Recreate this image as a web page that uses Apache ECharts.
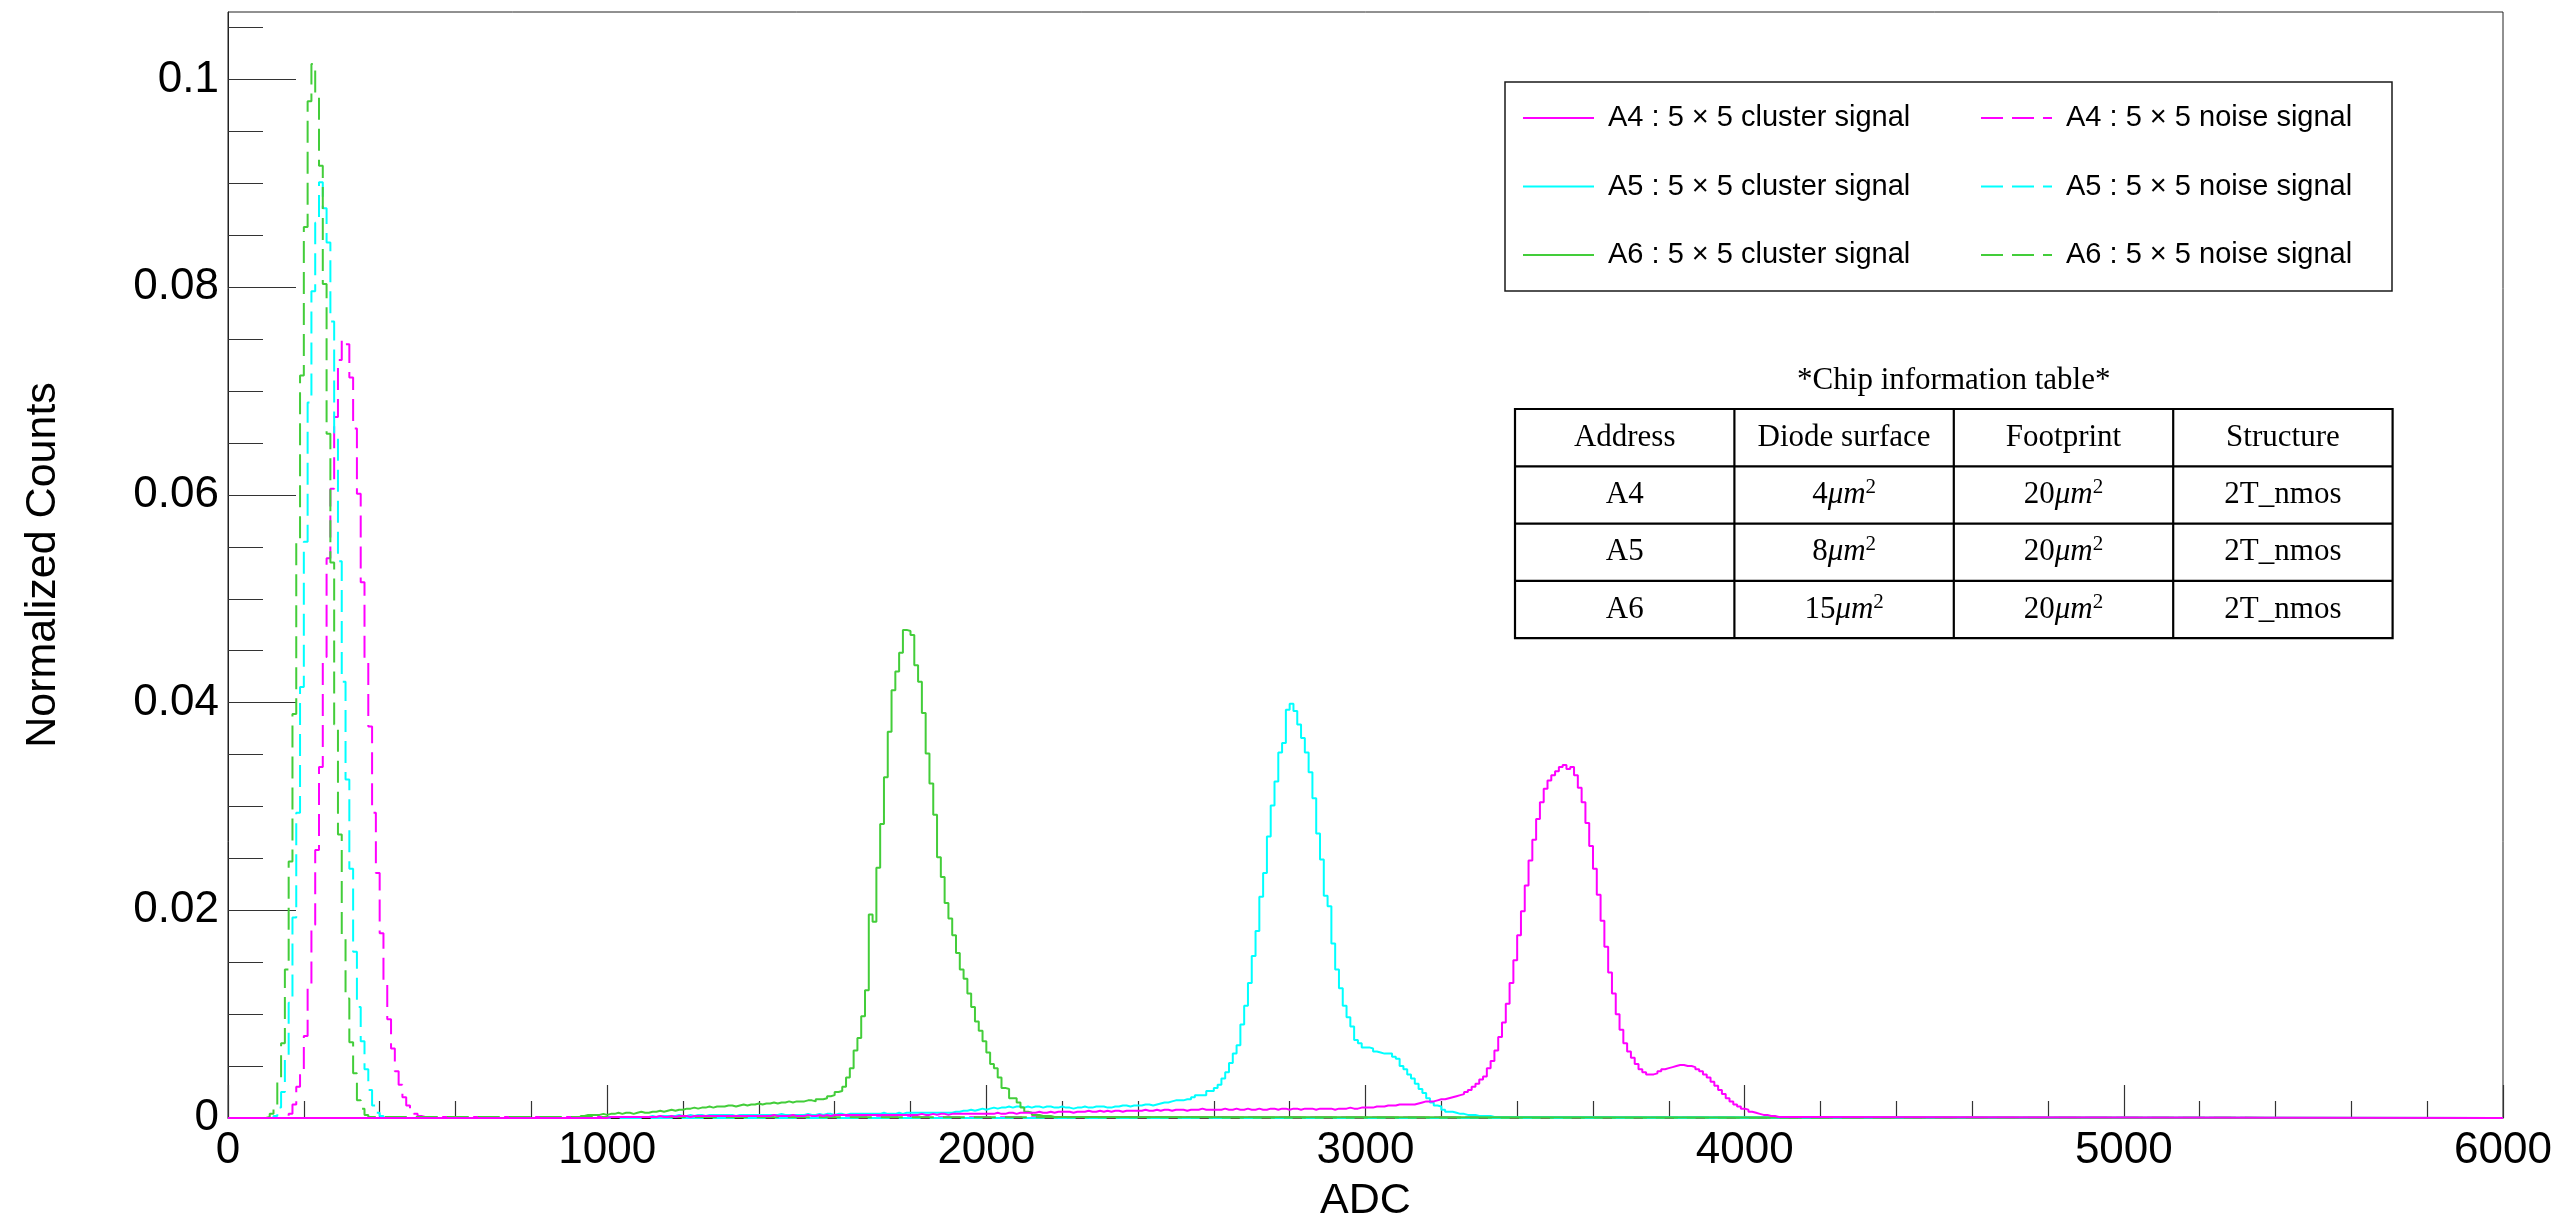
<!DOCTYPE html>
<html>
<head>
<meta charset="utf-8">
<script src="https://cdn.jsdelivr.net/npm/echarts@6/dist/echarts.min.js"></script>
<style>
  html, body { margin: 0; padding: 0; background: #ffffff; }
  #chart { width: 2560px; height: 1228px; }
</style>
</head>
<body>
<div id="chart"></div>
<script>
// ---------------- data ----------------
const BIN_WIDTH = 10;           // ADC counts per histogram bin
const ADC_MIN = 0, ADC_MAX = 6000;
const COUNT_MAX = 0.1065;

const xTickValues = [0, 1000, 2000, 3000, 4000, 5000, 6000];
const yTickValues = [0, 0.02, 0.04, 0.06, 0.08, 0.1];
const yMinorTickValues = [0.005, 0.01, 0.015, 0.025, 0.03, 0.035, 0.045, 0.05, 0.055,
  0.065, 0.07, 0.075, 0.085, 0.09, 0.095, 0.105];

const chips = ['A4', 'A5', 'A6'];
const clusterLabels = chips.map(c => c + ' : 5 \u00d7 5 cluster signal');
const noiseLabels = chips.map(c => c + ' : 5 \u00d7 5 noise signal');

// noise histograms (first bin lower edge, then one value per 10-ADC bin)
const a4NoiseStart = 150;
const a4Noise = [0.0001, 0.0004, 0.0013, 0.0030, 0.0046, 0.0079, 0.0125, 0.0186, 0.0258, 0.0338,
  0.0444, 0.0539, 0.0606, 0.0675, 0.0730, 0.0749, 0.0745, 0.0713, 0.0664, 0.0601,
  0.0516, 0.0441, 0.0377, 0.0294, 0.0236, 0.0178, 0.0133, 0.0095, 0.0067, 0.0045,
  0.0032, 0.0020, 0.0012, 0.0008, 0.0004, 0.0002, 0.0001];

const a5NoiseStart = 120;
const a5Noise = [0.0002, 0.0010, 0.0025, 0.0058, 0.0111, 0.0193, 0.0294, 0.0415, 0.0555, 0.0689,
  0.0796, 0.0862, 0.0901, 0.0876, 0.0843, 0.0767, 0.0660, 0.0536, 0.0420, 0.0326,
  0.0240, 0.0160, 0.0107, 0.0074, 0.0047, 0.0027, 0.0012, 0.0005, 0.0002];

const a6NoiseStart = 100;
const a6Noise = [0.0001, 0.0004, 0.0013, 0.0035, 0.0072, 0.0143, 0.0247, 0.0389, 0.0554, 0.0715,
  0.0858, 0.0979, 0.1015, 0.0985, 0.0917, 0.0803, 0.0659, 0.0535, 0.0379, 0.0273,
  0.0176, 0.0115, 0.0073, 0.0043, 0.0017, 0.0009, 0.0003, 0.0001];

// cluster-signal histograms
const a4SignalStart = 1000;
const a4Signal = [
  0.0001, 0.0001, 0.0001, 0.0001, 0.0001, 0.0001, 0.0001, 0.0001, 0.0001, 0.0001,
  0.0001, 0.0001, 0.0001, 0.0002, 0.0001, 0.0001, 0.0002, 0.0001, 0.0002, 0.0002,
  0.0002, 0.0001, 0.0002, 0.0002, 0.0002, 0.0002, 0.0002, 0.0002, 0.0002, 0.0002,
  0.0002, 0.0002, 0.0002, 0.0002, 0.0002, 0.0002, 0.0002, 0.0002, 0.0002, 0.0002,
  0.0002, 0.0002, 0.0002, 0.0003, 0.0002, 0.0002, 0.0002, 0.0002, 0.0003, 0.0002,
  0.0002, 0.0002, 0.0003, 0.0002, 0.0002, 0.0003, 0.0002, 0.0003, 0.0002, 0.0003,
  0.0003, 0.0003, 0.0003, 0.0003, 0.0003, 0.0003, 0.0003, 0.0003, 0.0003, 0.0003,
  0.0003, 0.0003, 0.0003, 0.0003, 0.0003, 0.0003, 0.0003, 0.0003, 0.0003, 0.0003,
  0.0003, 0.0003, 0.0004, 0.0003, 0.0003, 0.0004, 0.0003, 0.0004, 0.0004, 0.0003,
  0.0004, 0.0004, 0.0004, 0.0004, 0.0004, 0.0004, 0.0004, 0.0004, 0.0004, 0.0004,
  0.0004, 0.0004, 0.0005, 0.0004, 0.0004, 0.0005, 0.0005, 0.0004, 0.0005, 0.0005,
  0.0005, 0.0005, 0.0005, 0.0006, 0.0005, 0.0005, 0.0006, 0.0005, 0.0006, 0.0006,
  0.0006, 0.0006, 0.0005, 0.0006, 0.0006, 0.0006, 0.0007, 0.0006, 0.0006, 0.0007,
  0.0006, 0.0007, 0.0006, 0.0007, 0.0007, 0.0006, 0.0007, 0.0007, 0.0007, 0.0007,
  0.0007, 0.0008, 0.0007, 0.0007, 0.0008, 0.0007, 0.0008, 0.0008, 0.0007, 0.0008,
  0.0008, 0.0008, 0.0007, 0.0008, 0.0008, 0.0008, 0.0009, 0.0008, 0.0008, 0.0008,
  0.0008, 0.0008, 0.0009, 0.0008, 0.0008, 0.0009, 0.0008, 0.0008, 0.0009, 0.0008,
  0.0008, 0.0009, 0.0008, 0.0008, 0.0009, 0.0009, 0.0008, 0.0009, 0.0009, 0.0008,
  0.0009, 0.0009, 0.0008, 0.0009, 0.0009, 0.0009, 0.0008, 0.0009, 0.0009, 0.0009,
  0.0009, 0.0008, 0.0009, 0.0009, 0.0009, 0.0010, 0.0009, 0.0009, 0.0010, 0.0010,
  0.0010, 0.0010, 0.0011, 0.0011, 0.0011, 0.0012, 0.0012, 0.0012, 0.0013, 0.0013,
  0.0013, 0.0013, 0.0013, 0.0014, 0.0015, 0.0016, 0.0016, 0.0016, 0.0017, 0.0018,
  0.0018, 0.0019, 0.0020, 0.0021, 0.0022, 0.0023, 0.0025, 0.0027, 0.0030, 0.0033,
  0.0037, 0.0040, 0.0048, 0.0055, 0.0065, 0.0078, 0.0092, 0.0110, 0.0130, 0.0152,
  0.0176, 0.0199, 0.0224, 0.0248, 0.0268, 0.0288, 0.0304, 0.0317, 0.0325, 0.0330,
  0.0334, 0.0338, 0.0340, 0.0336, 0.0338, 0.0330, 0.0318, 0.0304, 0.0284, 0.0262,
  0.0240, 0.0215, 0.0190, 0.0165, 0.0140, 0.0120, 0.0100, 0.0085, 0.0072, 0.0064,
  0.0058, 0.0052, 0.0047, 0.0044, 0.0042, 0.0042, 0.0043, 0.0045, 0.0047, 0.0048,
  0.0049, 0.0050, 0.0051, 0.0051, 0.0050, 0.0050, 0.0049, 0.0047, 0.0045, 0.0042,
  0.0039, 0.0035, 0.0031, 0.0027, 0.0023, 0.0019, 0.0016, 0.0013, 0.0011, 0.0009,
  0.0008, 0.0006, 0.0005, 0.0004, 0.0003, 0.0003, 0.0002, 0.0002, 0.0001, 0.0001,
  0.0001, 0.0001, 0.0001, 0.0001, 0.0001];

const a5SignalStart = 1000;
const a5Signal = [
  0.0001, 0.0001, 0.0001, 0.0001, 0.0001, 0.0001, 0.0001, 0.0001, 0.0001, 0.0001,
  0.0001, 0.0002, 0.0001, 0.0002, 0.0002, 0.0002, 0.0002, 0.0002, 0.0003, 0.0002,
  0.0002, 0.0003, 0.0002, 0.0003, 0.0003, 0.0002, 0.0003, 0.0003, 0.0003, 0.0003,
  0.0003, 0.0003, 0.0003, 0.0002, 0.0003, 0.0003, 0.0003, 0.0003, 0.0003, 0.0003,
  0.0003, 0.0003, 0.0003, 0.0003, 0.0003, 0.0004, 0.0003, 0.0003, 0.0003, 0.0003,
  0.0003, 0.0003, 0.0004, 0.0003, 0.0003, 0.0004, 0.0003, 0.0004, 0.0004, 0.0003,
  0.0004, 0.0004, 0.0003, 0.0004, 0.0004, 0.0004, 0.0004, 0.0004, 0.0004, 0.0004,
  0.0004, 0.0004, 0.0005, 0.0004, 0.0004, 0.0004, 0.0005, 0.0004, 0.0005, 0.0005,
  0.0005, 0.0005, 0.0005, 0.0005, 0.0005, 0.0005, 0.0005, 0.0005, 0.0005, 0.0005,
  0.0005, 0.0006, 0.0006, 0.0007, 0.0007, 0.0008, 0.0007, 0.0008, 0.0009, 0.0008,
  0.0009, 0.0010, 0.0009, 0.0010, 0.0010, 0.0011, 0.0010, 0.0011, 0.0011, 0.0010,
  0.0011, 0.0010, 0.0011, 0.0011, 0.0010, 0.0011, 0.0011, 0.0010, 0.0010, 0.0011,
  0.0010, 0.0010, 0.0009, 0.0010, 0.0010, 0.0011, 0.0010, 0.0010, 0.0011, 0.0011,
  0.0011, 0.0010, 0.0010, 0.0011, 0.0011, 0.0012, 0.0012, 0.0011, 0.0012, 0.0012,
  0.0012, 0.0013, 0.0013, 0.0012, 0.0013, 0.0014, 0.0015, 0.0015, 0.0016, 0.0017,
  0.0017, 0.0017, 0.0018, 0.0018, 0.0020, 0.0022, 0.0022, 0.0022, 0.0026, 0.0026,
  0.0029, 0.0032, 0.0038, 0.0044, 0.0053, 0.0062, 0.0070, 0.0090, 0.0108, 0.0130,
  0.0156, 0.0180, 0.0213, 0.0236, 0.0271, 0.0301, 0.0324, 0.0352, 0.0361, 0.0393,
  0.0399, 0.0392, 0.0379, 0.0366, 0.0352, 0.0333, 0.0308, 0.0274, 0.0249, 0.0214,
  0.0204, 0.0168, 0.0143, 0.0125, 0.0108, 0.0097, 0.0088, 0.0075, 0.0072, 0.0068,
  0.0068, 0.0067, 0.0064, 0.0063, 0.0062, 0.0062, 0.0062, 0.0059, 0.0057, 0.0050,
  0.0047, 0.0042, 0.0038, 0.0033, 0.0028, 0.0024, 0.0019, 0.0015, 0.0012, 0.0011,
  0.0008, 0.0006, 0.0006, 0.0005, 0.0004, 0.0004, 0.0003, 0.0003, 0.0003, 0.0002,
  0.0002, 0.0002, 0.0002, 0.0001, 0.0001, 0.0001, 0.0001, 0.0001, 0.0001, 0.0001];

const a6SignalStart = 930;
const a6Signal = [
  0.0002, 0.0003, 0.0003, 0.0003, 0.0003, 0.0004, 0.0003,
  0.0004, 0.0004, 0.0005, 0.0004, 0.0005, 0.0005, 0.0004, 0.0005, 0.0006, 0.0005,
  0.0005, 0.0006, 0.0006, 0.0007, 0.0006, 0.0007, 0.0008, 0.0007, 0.0008, 0.0008,
  0.0009, 0.0009, 0.0010, 0.0009, 0.0010, 0.0010, 0.0011, 0.0010, 0.0011, 0.0011,
  0.0011, 0.0012, 0.0012, 0.0011, 0.0012, 0.0013, 0.0012, 0.0013, 0.0013, 0.0014,
  0.0013, 0.0014, 0.0014, 0.0015, 0.0014, 0.0015, 0.0015, 0.0016, 0.0015, 0.0016,
  0.0016, 0.0016, 0.0017, 0.0017, 0.0016, 0.0018, 0.0018, 0.0019, 0.0021, 0.0022,
  0.0025, 0.0026, 0.0030, 0.0039, 0.0048, 0.0065, 0.0077, 0.0098, 0.0123, 0.0196,
  0.0189, 0.0241, 0.0283, 0.0328, 0.0372, 0.0412, 0.0430, 0.0448, 0.0470, 0.0469,
  0.0465, 0.0436, 0.0420, 0.0390, 0.0351, 0.0322, 0.0292, 0.0251, 0.0232, 0.0207,
  0.0192, 0.0176, 0.0159, 0.0143, 0.0134, 0.0120, 0.0107, 0.0093, 0.0084, 0.0074,
  0.0063, 0.0052, 0.0048, 0.0039, 0.0029, 0.0028, 0.0019, 0.0019, 0.0015, 0.0010,
  0.0006, 0.0005, 0.0003, 0.0003, 0.0002, 0.0002, 0.0002, 0.0001, 0.0001, 0.0001];

// chip information table
const tableTitle = '*Chip information table*';
const tableHeader = ['Address', 'Diode surface', 'Footprint', 'Structure'];
const diodeSurface = [4, 8, 15];      // in μm²
const footprintArea = [20, 20, 20];   // in μm²
const chipStructure = ['2T_nmos', '2T_nmos', '2T_nmos'];

// ---------------- styling ----------------
const MAGENTA = '#ff00ff', CYAN = '#00ffff', GREEN = '#43cd3a';
const SANS = 'Liberation Sans, Arial, Helvetica, sans-serif';
const SERIF = 'Liberation Serif, Times New Roman, serif';
const DASH = [22, 9];

// histogram -> step polyline: flat at zero from ADC_MIN, one step per bin, back to zero up to ADC_MAX
function histogramPoints(start, values) {
  const pts = [[ADC_MIN, 0]];
  values.forEach((v, i) => pts.push([start + i * BIN_WIDTH, v]));
  pts.push([start + values.length * BIN_WIDTH, 0]);
  pts.push([ADC_MAX, 0]);
  return pts;
}

function histSeries(name, color, dashed, start, values) {
  return {
    name: name,
    type: 'line',
    step: 'end',
    symbol: 'none',
    silent: true,
    animation: false,
    color: color,
    lineStyle: { color: color, width: 2, type: dashed ? DASH : 'solid' },
    data: histogramPoints(start, values)
  };
}

// drawing order: noise underneath, cluster signals on top
const series = [
  histSeries(noiseLabels[0], MAGENTA, true, a4NoiseStart, a4Noise),
  histSeries(noiseLabels[1], CYAN, true, a5NoiseStart, a5Noise),
  histSeries(noiseLabels[2], GREEN, true, a6NoiseStart, a6Noise),
  histSeries(clusterLabels[1], CYAN, false, a5SignalStart, a5Signal),
  histSeries(clusterLabels[2], GREEN, false, a6SignalStart, a6Signal),
  histSeries(clusterLabels[0], MAGENTA, false, a4SignalStart, a4Signal)
];

// ---------------- legend and table overlays ----------------
const legendBox = { x: 1505, y: 82, w: 887, h: 209 };
const legendCommon = {
  orient: 'vertical',
  padding: 0,
  itemWidth: 71,
  itemHeight: 30,
  itemGap: 38.5,
  selectedMode: false,
  z: 6,
  itemStyle: { color: 'rgba(0,0,0,0)', borderWidth: 0 },
  textStyle: { fontFamily: SANS, fontSize: 29, color: '#000', lineHeight: 30, padding: [0, 0, 0, 9] }
};

const table = { x: 1515, y: 409, colW: 219.4, rowH: 57.3 };
const graphics = [];

graphics.push({
  type: 'rect', z: 5,
  shape: { x: legendBox.x, y: legendBox.y, width: legendBox.w, height: legendBox.h },
  style: { fill: '#ffffff', stroke: '#1a1a1a', lineWidth: 1.5 }
});

graphics.push({
  type: 'text', z: 5,
  x: table.x + table.colW * 2, y: 381,
  style: { text: tableTitle, fontFamily: SERIF, fontSize: 31, fill: '#000', align: 'center', verticalAlign: 'middle' }
});

const nRows = chips.length + 1;
const tableW = table.colW * tableHeader.length;
const tableH = table.rowH * nRows;
graphics.push({
  type: 'rect', z: 5,
  shape: { x: table.x, y: table.y, width: tableW, height: tableH },
  style: { fill: '#ffffff', stroke: '#000', lineWidth: 2.2 }
});
for (let c = 1; c < tableHeader.length; c++) {
  const x = table.x + c * table.colW;
  graphics.push({ type: 'line', z: 5, shape: { x1: x, y1: table.y, x2: x, y2: table.y + tableH }, style: { stroke: '#000', lineWidth: 2.2 } });
}
for (let r = 1; r < nRows; r++) {
  const y = table.y + r * table.rowH;
  graphics.push({ type: 'line', z: 5, shape: { x1: table.x, y1: y, x2: table.x + tableW, y2: y }, style: { stroke: '#000', lineWidth: 2.2 } });
}

const areaRich = {
  v: { fontFamily: SERIF, fontSize: 31, lineHeight: 36, fill: '#000' },
  u: { fontFamily: SERIF, fontSize: 31, lineHeight: 36, fontStyle: 'italic', fill: '#000' },
  p: { fontFamily: SERIF, fontSize: 21, lineHeight: 22, verticalAlign: 'top', fill: '#000' }
};
function areaText(n) { return '{v|' + n + '}{u|\u03bcm}{p|2}'; }

function cell(col, row, text, rich) {
  const style = {
    text: text, fontFamily: SERIF, fontSize: 31, fill: '#000',
    align: 'center', verticalAlign: 'middle'
  };
  if (rich) style.rich = rich;
  graphics.push({
    type: 'text', z: 6,
    x: table.x + (col + 0.5) * table.colW,
    y: table.y + (row + 0.5) * table.rowH,
    style: style
  });
}
tableHeader.forEach((h, c) => cell(c, 0, h));
chips.forEach((chip, i) => {
  cell(0, i + 1, chip);
  cell(1, i + 1, areaText(diodeSurface[i]), areaRich);
  cell(2, i + 1, areaText(footprintArea[i]), areaRich);
  cell(3, i + 1, chipStructure[i]);
});

// ---------------- chart ----------------
const axisColor = '#222';
const option = {
  backgroundColor: '#ffffff',
  animation: false,
  grid: {
    left: 228, right: 57, top: 12, bottom: 104,
    show: true, borderColor: axisColor, borderWidth: 1, backgroundColor: 'rgba(0,0,0,0)'
  },
  legend: [
    Object.assign({}, legendCommon, { left: 1522, top: 103, data: clusterLabels }),
    Object.assign({}, legendCommon, { left: 1980, top: 103, data: noiseLabels })
  ],
  xAxis: {
    type: 'value', min: ADC_MIN, max: ADC_MAX, interval: 1000,
    name: 'ADC', nameLocation: 'middle', nameGap: 62,
    nameTextStyle: { fontFamily: SANS, fontSize: 43, color: '#000' },
    axisLine: { show: true, lineStyle: { color: axisColor, width: 1 } },
    axisTick: { show: true, inside: true, length: 33, lineStyle: { color: '#333', width: 1.2 } },
    minorTick: { show: true, splitNumber: 5, length: 17, lineStyle: { color: '#333', width: 1.2 } },
    axisLabel: {
      fontFamily: SANS, fontSize: 44, color: '#000', margin: 11,
      customValues: xTickValues,
      formatter: v => String(v)
    },
    splitLine: { show: false }
  },
  yAxis: [
    {
      type: 'value', min: 0, max: COUNT_MAX, position: 'left',
      name: 'Normalized Counts', nameLocation: 'middle', nameRotate: 90, nameGap: 163,
      nameTextStyle: { fontFamily: SANS, fontSize: 43, color: '#000' },
      axisLine: { show: true, lineStyle: { color: axisColor, width: 1 } },
      axisTick: { show: true, inside: true, length: 68, customValues: yTickValues, lineStyle: { color: '#333', width: 1.2 } },
      axisLabel: { fontFamily: SANS, fontSize: 44, color: '#000', margin: 9, customValues: yTickValues },
      splitLine: { show: false }
    },
    {
      type: 'value', min: 0, max: COUNT_MAX, position: 'left',
      axisLine: { show: false },
      axisTick: { show: true, inside: true, length: 35, customValues: yMinorTickValues, lineStyle: { color: '#333', width: 1.2 } },
      axisLabel: { show: false },
      splitLine: { show: false }
    }
  ],
  graphic: graphics,
  series: series
};

const chart = echarts.init(document.getElementById('chart'), null, { renderer: 'canvas', width: 2560, height: 1228 });
chart.setOption(option);
</script>
</body>
</html>
